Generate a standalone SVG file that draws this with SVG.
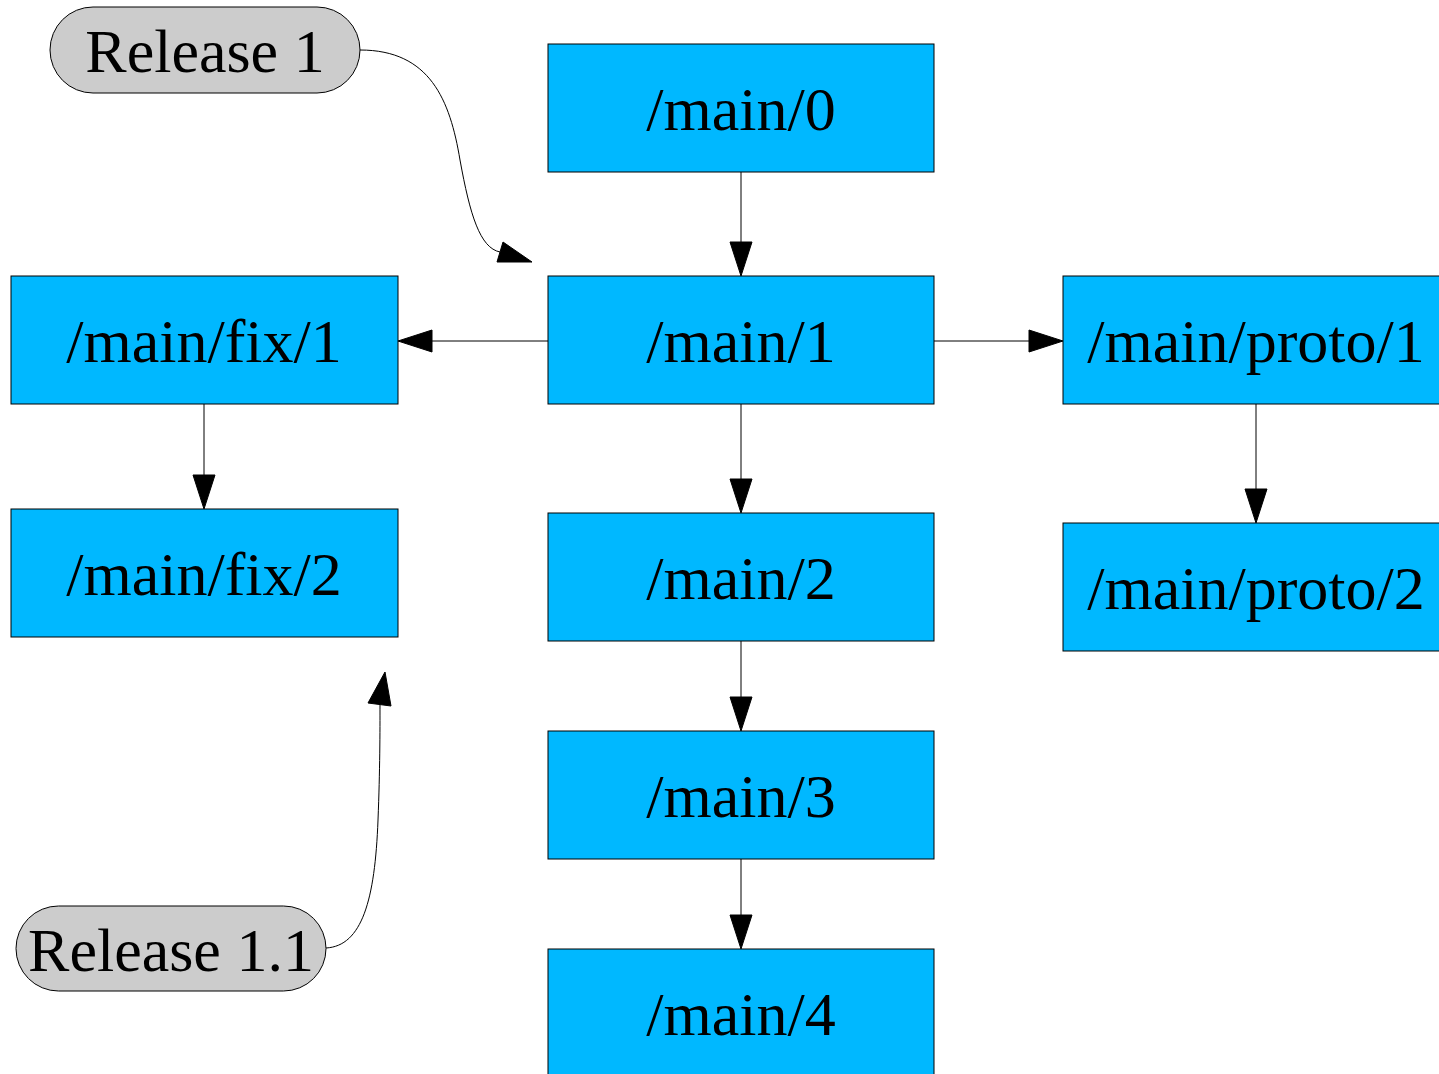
<svg xmlns="http://www.w3.org/2000/svg" width="1439" height="1074" viewBox="0 0 1439 1074">
  <style>
    .node rect { fill: #00b8ff; stroke: #000; stroke-width: 1; }
    .tag rect { fill: #cccccc; stroke: #000; stroke-width: 1; }
    text { font-family: "Liberation Serif", "Times New Roman", serif; font-size: 62px; fill: #000; text-anchor: middle; }
    .edge { fill: none; stroke: #000; stroke-width: 1; }
    .head { fill: #000; stroke: #000; stroke-width: 1; }
  </style>
  <rect width="1439" height="1074" fill="#fff"/>

  <!-- revision nodes -->
  <g id="main0" class="node"><rect x="548" y="44" width="386" height="128"/><text x="741" y="130">/main/0</text></g>
  <g id="main1" class="node"><rect x="548" y="276" width="386" height="128"/><text x="741" y="362">/main/1</text></g>
  <g id="main2" class="node"><rect x="548" y="513" width="386" height="128"/><text x="741" y="599">/main/2</text></g>
  <g id="main3" class="node"><rect x="548" y="731" width="386" height="128"/><text x="741" y="817">/main/3</text></g>
  <g id="main4" class="node"><rect x="548" y="949" width="386" height="128"/><text x="741" y="1035">/main/4</text></g>
  <g id="fix1" class="node"><rect x="11" y="276" width="387" height="128"/><text x="204" y="362">/main/fix/1</text></g>
  <g id="fix2" class="node"><rect x="11" y="509" width="387" height="128"/><text x="204" y="595">/main/fix/2</text></g>
  <g id="proto1" class="node"><rect x="1063" y="276" width="386" height="128"/><text x="1256" y="362">/main/proto/1</text></g>
  <g id="proto2" class="node"><rect x="1063" y="523" width="386" height="128"/><text x="1256" y="609">/main/proto/2</text></g>

  <!-- release labels -->
  <g id="release1" class="tag"><rect x="50" y="7" width="310" height="86" rx="43" ry="43"/><text x="205" y="72">Release 1</text></g>
  <g id="release11" class="tag"><rect x="16" y="906" width="310" height="85" rx="42.5" ry="42.5"/><text x="171" y="971">Release 1.1</text></g>

  <!-- connectors -->
  <g id="edges">
    <line class="edge" x1="741" y1="172" x2="741" y2="242"/>
    <polygon class="head" points="730,242 752,242 741,276"/>

    <line class="edge" x1="548" y1="341" x2="432" y2="341"/>
    <polygon class="head" points="432,330 432,352 398,341"/>

    <line class="edge" x1="934" y1="341" x2="1029" y2="341"/>
    <polygon class="head" points="1029,330 1029,352 1063,341"/>

    <line class="edge" x1="741" y1="404" x2="741" y2="479"/>
    <polygon class="head" points="730,479 752,479 741,513"/>

    <line class="edge" x1="204" y1="404" x2="204" y2="475"/>
    <polygon class="head" points="193,475 215,475 204,509"/>

    <line class="edge" x1="1256" y1="404" x2="1256" y2="489"/>
    <polygon class="head" points="1245,489 1267,489 1256,523"/>

    <line class="edge" x1="741" y1="641" x2="741" y2="697"/>
    <polygon class="head" points="730,697 752,697 741,731"/>

    <line class="edge" x1="741" y1="859" x2="741" y2="915"/>
    <polygon class="head" points="730,915 752,915 741,949"/>

    <path class="edge" d="M360,50 C430,50 450,100 460,160 C470,215 480,248 500,252"/>
    <polygon class="head" points="503,242 497,262 532,262"/>

    <path class="edge" d="M326,948 C362,946 375,900 378,820 C380,770 380,730 380,705"/>
    <polygon class="head" points="368,703 391,706 385,672"/>
  </g>
</svg>
